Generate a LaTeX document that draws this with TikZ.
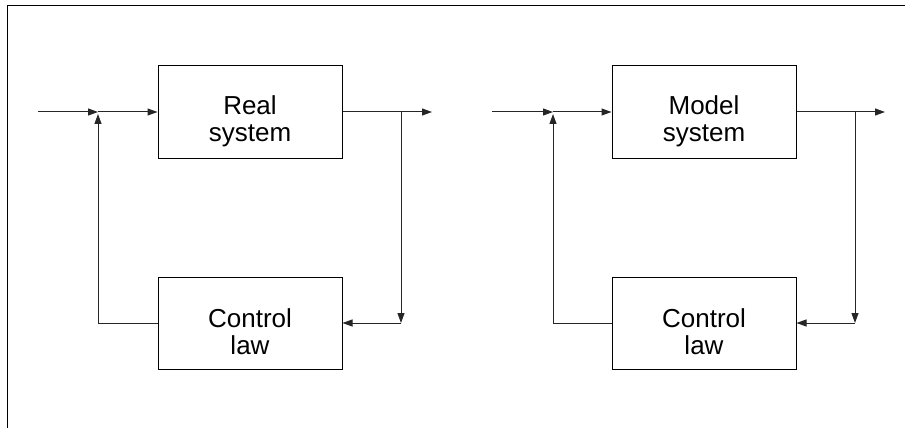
\documentclass[tikz,border=0pt]{standalone}
\usepackage{fontspec}
\setmainfont{Liberation Sans}
\usetikzlibrary{arrows.meta}
\begin{document}
\begin{tikzpicture}[x=1pt,y=-1pt,
  blockbox/.style={draw=black,line width=1pt,minimum width=184pt,minimum height=92pt,inner sep=0pt},
  blocktext/.style={align=center,inner sep=0pt,yshift=-9pt,font=\fontsize{26}{27}\selectfont},
  wire/.style={line width=1pt,draw=black!85},
  arr/.style={wire,-{Triangle[length=10pt,width=7pt]}}]
\useasboundingbox (0,0) rectangle (914,428);
\draw[line width=1.5pt] (7.5,428) -- (7.5,5.5) -- (905,5.5);
% left system
\node[blockbox,label={[blocktext]center:Real\\system}] (rs) at (250,112) {};
\node[blockbox,label={[blocktext]center:Control\\law}] (cl1) at (250,323) {};
\coordinate (in1) at (38,112);
\coordinate (j1) at (98,112);
\coordinate (jb1) at (98,114);
\coordinate (out1) at (432,112);
\coordinate (b1) at (401,112);
\coordinate (c1) at (401,323);
\coordinate (f1) at (98,323);
\draw[arr] (in1) -- (j1);
\draw[arr] (j1) -- (rs.west);
\draw[arr] (rs.east) -- (out1);
\draw[arr] (b1) -- (c1);
\draw[arr] (c1) -- (cl1.east);
\draw[wire] (cl1.west) -- (f1);
\draw[arr] (f1) -- (jb1);
% right system
\node[blockbox,label={[blocktext]center:Model\\system}] (ms) at (704,112) {};
\node[blockbox,label={[blocktext]center:Control\\law}] (cl2) at (704,323) {};
\coordinate (in2) at (492,112);
\coordinate (j2) at (553,112);
\coordinate (jb2) at (553,114);
\coordinate (out2) at (885,112);
\coordinate (b2) at (855,112);
\coordinate (c2) at (855,323);
\coordinate (f2) at (553,323);
\draw[arr] (in2) -- (j2);
\draw[arr] (j2) -- (ms.west);
\draw[arr] (ms.east) -- (out2);
\draw[arr] (b2) -- (c2);
\draw[arr] (c2) -- (cl2.east);
\draw[wire] (cl2.west) -- (f2);
\draw[arr] (f2) -- (jb2);
\end{tikzpicture}
\end{document}
